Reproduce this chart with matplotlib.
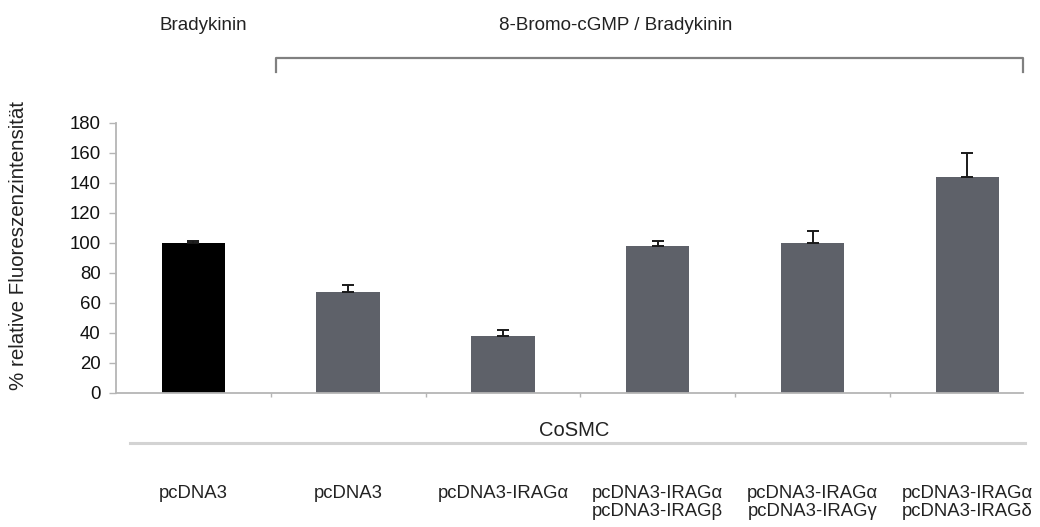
import matplotlib
matplotlib.use("Agg")
import matplotlib.pyplot as plt
from matplotlib.lines import Line2D

# ---- data ----
categories = ["pcDNA3", "pcDNA3", "pcDNA3-IRAGα",
              "pcDNA3-IRAGα\npcDNA3-IRAGβ",
              "pcDNA3-IRAGα\npcDNA3-IRAGγ",
              "pcDNA3-IRAGα\npcDNA3-IRAGδ"]
values = [100, 67, 38, 98, 100, 144]
errors_upper = [0.7, 5, 4, 3, 8, 16]
bar_colors = ["#000000", "#5e6169", "#5e6169", "#5e6169", "#5e6169", "#5e6169"]
y_ticks = [0, 20, 40, 60, 80, 100, 120, 140, 160, 180]
ylabel = "% relative Fluoreszenzintensität"
top_left_label = "Bradykinin"
top_right_label = "8-Bromo-cGMP / Bradykinin"
group_label = "CoSMC"

W, H = 1040, 527
plt.rcParams['font.family'] = ['Liberation Sans', 'DejaVu Sans']
fig = plt.figure(figsize=(W / 100, H / 100), dpi=100)

def fx(x):
    return x / W

def fy(y):
    return 1 - y / H

ax_left, ax_right, ax_bottom, ax_top = 116, 1023, 392.5, 122.5
ax = fig.add_axes([fx(ax_left), fy(ax_bottom), fx(ax_right) - fx(ax_left), fy(ax_top) - fy(ax_bottom)])

x = list(range(len(values)))
ax.bar(x, values, width=0.41, color=bar_colors, zorder=2)
ax.errorbar(x, values, yerr=[[0] * len(values), errors_upper], fmt='none',
            ecolor='#1a1a1a', elinewidth=1.4, capsize=4, capthick=1.4, zorder=3)

ax.set_ylim(0, 180)
ax.set_xlim(-0.5, 5.36)
ax.set_yticks(y_ticks)
ax.set_yticklabels([str(t) for t in y_ticks], fontsize=13.4, color='#111111')
ax.set_xticks([i + 0.5 for i in range(5)])
ax.set_xticklabels([])
ax.tick_params(axis='y', length=5, width=1, color='#b5b5b5', pad=6)
ax.tick_params(axis='x', length=3, width=1, color='#b5b5b5')
for s in ['top', 'right']:
    ax.spines[s].set_visible(False)
for s in ['left', 'bottom']:
    ax.spines[s].set_color('#b5b5b5')
    ax.spines[s].set_linewidth(1.3)

fig.text(fx(19), fy(245), ylabel, rotation=90, ha='center', va='center',
         fontsize=14.8, color='#222222')

# top labels and bracket
fig.text(fx(203), fy(25), top_left_label, ha='center', va='center', fontsize=13.5, color='#222222')
fig.text(fx(616), fy(25), top_right_label, ha='center', va='center', fontsize=13.5, color='#222222')
fig.add_artist(Line2D([fx(276), fx(276), fx(1023), fx(1023)],
                      [fy(72), fy(58), fy(58), fy(72)],
                      color='#808080', lw=1.6, transform=fig.transFigure))

# group label and line
fig.text(fx(574), fy(430), group_label, ha='center', va='center', fontsize=14.5, color='#222222')
fig.add_artist(Line2D([fx(130), fx(1025)], [fy(443), fy(443)],
                      color='#d3d3d3', lw=2.2, transform=fig.transFigure))

# category labels under each bar
for i, lab in enumerate(categories):
    xc = ax_left + (ax_right - ax_left) * (i + 0.5) / 5.86
    fig.text(fx(xc), fy(485), lab, ha='center', va='top', fontsize=13.3,
             color='#222222', linespacing=1.1)

fig.savefig("out.png", dpi=100)
